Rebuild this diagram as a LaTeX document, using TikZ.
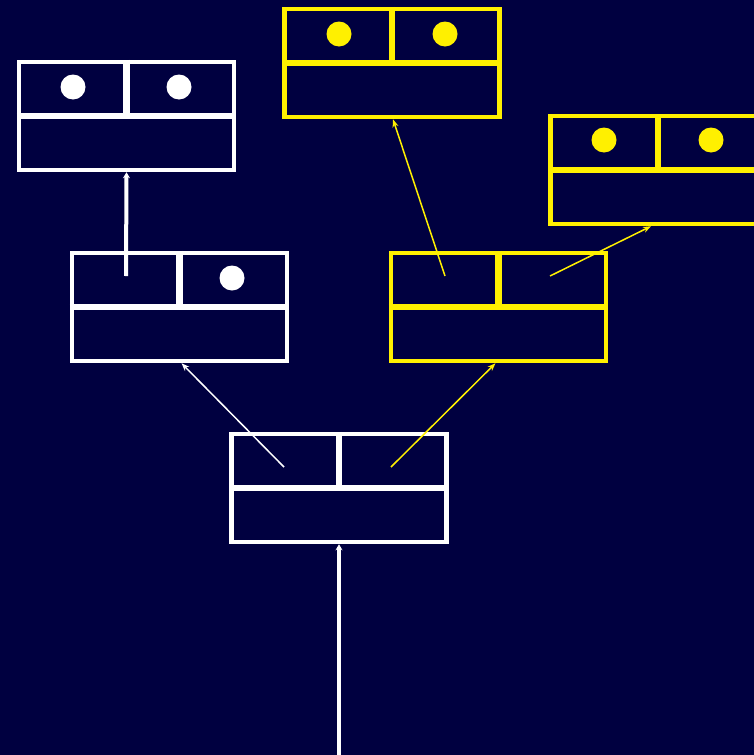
\documentclass[tikz,border=0pt]{standalone}
\usetikzlibrary{arrows.meta}
\definecolor{bg}{RGB}{0,0,64}
\definecolor{yel}{RGB}{255,240,0}
\tikzset{
  box/.style={draw=#1, line width=4.5pt, rectangle, minimum width=215pt, minimum height=108pt, inner sep=0pt},
  divider/.style={draw=#1, line width=6.5pt},
  dot/.style={fill=#1, circle, minimum size=25pt, inner sep=0pt},
  thinarrow/.style={draw=#1, line width=1.5pt, -{Stealth[length=8pt,width=6pt]}},
  thickarrow/.style={draw=#1, line width=4pt, -{Stealth[length=6pt,width=7pt]}}
}
\newcommand{\mybox}[4]{%
  \node[box=#4] (#1) at (#2,#3) {};
  \draw[divider=#4] (#1.west) -- (#1.east);
  \draw[divider=#4] (#1.north) -- (#1.center);
}
\begin{document}
\begin{tikzpicture}[x=1pt,y=-1pt]
\useasboundingbox (0,0) rectangle (754,755);
\fill[bg] (0,0) rectangle (754,755);
\clip (0,0) rectangle (754,755);
% boxes
\mybox{A}{126.5}{116}{white}
\mybox{B}{179.5}{307}{white}
\mybox{C}{339}{488}{white}
\mybox{D}{392}{63}{yel}
\mybox{E}{498.5}{307}{yel}
\mybox{F}{658}{170}{yel}
% dots
\node[dot=white] (a1) at (73,87) {};
\node[dot=white] (a2) at (179,87) {};
\node[dot=white] (b2) at (232,278) {};
\node[dot=yel] (d1) at (339,34) {};
\node[dot=yel] (d2) at (445,34) {};
\node[dot=yel] (f1) at (604,140) {};
\node[dot=yel] (f2) at (711,140) {};
% arrow start points
\coordinate (sB) at (126,276);
\coordinate (sCl) at (284,467);
\coordinate (sCr) at (391,467);
\coordinate (sEl) at (445,276);
\coordinate (sEr) at (550,276);
\coordinate (root) at (339,755);
% arrows
\draw[thickarrow=white] (sB) -- (A.south);
\draw[thickarrow=white] (root) -- (C.south);
\draw[thinarrow=white] (sCl) -- ([xshift=2pt]B.south);
\draw[thinarrow=yel] (sCr) -- ([xshift=-3pt]E.south);
\draw[thinarrow=yel] (sEl) -- ([xshift=1pt]D.south);
\draw[thinarrow=yel] (sEr) -- ([xshift=-7pt]F.south);
\end{tikzpicture}
\end{document}
